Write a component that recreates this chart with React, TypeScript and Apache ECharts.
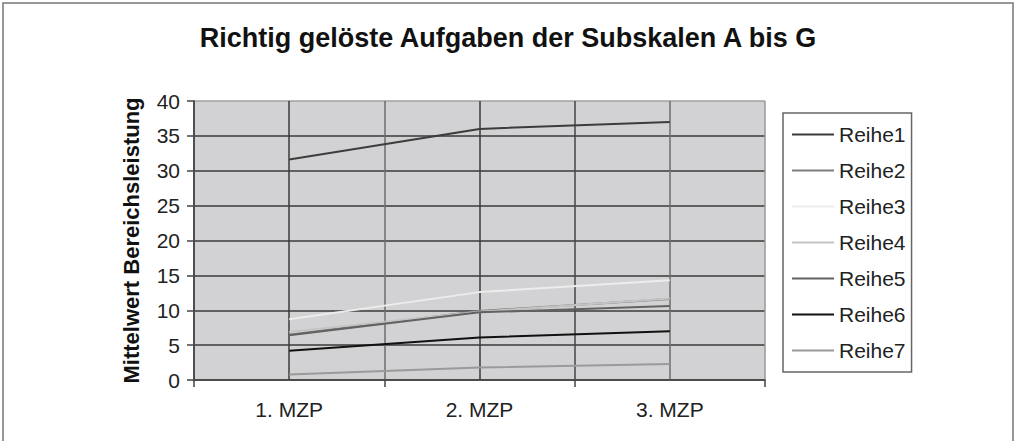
import React, { useEffect, useRef } from "react";
import * as echarts from "echarts";

const categories = ["1. MZP", "2. MZP", "3. MZP"];
const seriesNames = ["Reihe1", "Reihe2", "Reihe3", "Reihe4", "Reihe5", "Reihe6", "Reihe7"];
const reihe1 = [31.6, 36.0, 37.0];
const reihe2 = [6.5, 9.9, 11.6];
const reihe3 = [8.7, 12.6, 14.3];
const reihe4 = [6.9, 9.8, 11.7];
const reihe5 = [6.4, 9.7, 10.6];
const reihe6 = [4.2, 6.1, 7.0];
const reihe7 = [0.8, 1.8, 2.3];
const seriesValues = [reihe1, reihe2, reihe3, reihe4, reihe5, reihe6, reihe7];
const seriesColors = ["#3c3c3c", "#7c7c7c", "#ececec", "#c4c4c4", "#626262", "#111111", "#9a9a9a"];

const FONT = "'Liberation Sans', Arial, sans-serif";

export default function App() {
  const ref = useRef<HTMLDivElement>(null);
  useEffect(() => {
    if (!ref.current) return;
    const chart = echarts.init(ref.current, undefined, { renderer: "svg" });
    chart.setOption({
      animation: false,
      backgroundColor: "#ffffff",
      title: {
        text: "Richtig gelöste Aufgaben der Subskalen A bis G",
        left: "center",
        top: 19,
        textStyle: { fontFamily: FONT, fontSize: 27, fontWeight: "bold", color: "#111" },
      },
      graphic: [
        {
          type: "rect",
          shape: { x: 3, y: 3, width: 1010, height: 450 },
          style: { fill: "none", stroke: "#777", lineWidth: 1.5 },
          silent: true,
          z: 0,
        },
      ],
      legend: {
        orient: "vertical",
        left: 783,
        top: 113,
        data: seriesNames,
        icon: "rect",
        itemWidth: 42,
        itemHeight: 2,
        itemGap: 15,
        padding: [11, 6, 11, 9],
        borderColor: "#666",
        borderWidth: 1.5,
        textStyle: { fontFamily: FONT, fontSize: 21, color: "#222", lineHeight: 21 },
      },
      grid: {
        left: 194,
        right: 251,
        top: 101,
        bottom: 61,
        show: true,
        backgroundColor: "#d2d2d4",
        borderWidth: 0,
      },
      xAxis: [
        {
          type: "category",
          data: categories,
          boundaryGap: true,
          axisLine: { show: true, lineStyle: { color: "#444", width: 1.5 } },
          axisTick: { show: true, length: 7, lineStyle: { color: "#444", width: 1.5 } },
          axisLabel: { fontFamily: FONT, fontSize: 21, color: "#222", margin: 19 },
          splitLine: { show: false },
          z: 5,
        },
        {
          type: "value",
          min: 0,
          max: 3,
          interval: 0.5,
          show: true,
          position: "bottom",
          axisLine: { show: false },
          axisTick: { show: false },
          axisLabel: { show: false },
          splitLine: {
            show: true,
            lineStyle: {
              color: ["#444", "#3a3a3a", "#6c6c6c", "#3a3a3a", "#444", "#6c6c6c", "#999"],
              width: 1.5,
            },
          },
        },
      ],
      yAxis: {
        type: "value",
        min: 0,
        max: 40,
        interval: 5,
        name: "Mittelwert Bereichsleistung",
        nameLocation: "middle",
        nameRotate: 90,
        nameGap: 52,
        nameTextStyle: { fontFamily: FONT, fontSize: 22, fontWeight: "bold", color: "#111" },
        axisLine: { show: true, lineStyle: { color: "#444", width: 1.5 } },
        axisTick: { show: true, length: 7, lineStyle: { color: "#444", width: 1.5 } },
        axisLabel: { fontFamily: FONT, fontSize: 21, color: "#222", margin: 14 },
        splitLine: {
          show: true,
          lineStyle: {
            color: ["#3a3a3a", "#3a3a3a", "#3a3a3a", "#3a3a3a", "#3a3a3a", "#3a3a3a", "#3a3a3a", "#3a3a3a", "#a0a0a0"],
            width: 1.5,
          },
        },
      },
      series: seriesNames.map((name, i) => ({
        name,
        type: "line",
        xAxisIndex: 0,
        data: seriesValues[i],
        symbol: "none",
        color: seriesColors[i],
        lineStyle: { color: seriesColors[i], width: 2 },
        z: 3,
      })),
    });
    return () => chart.dispose();
  }, []);
  return (
    <div
      ref={ref}
      style={{ position: "fixed", left: 0, top: 0, width: 1016, height: 441 }}
    />
  );
}
